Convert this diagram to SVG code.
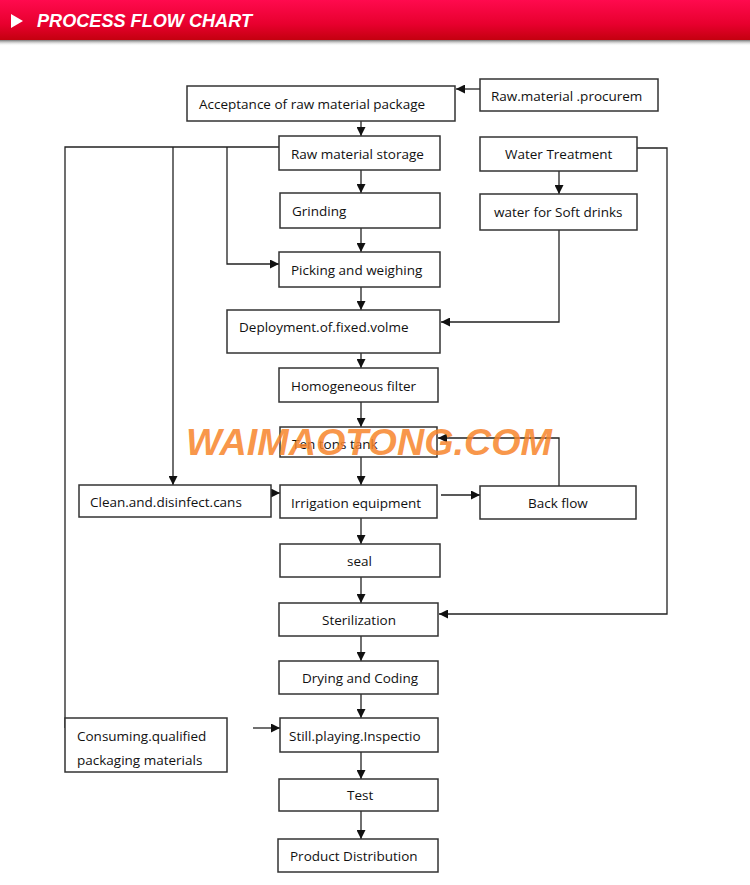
<svg xmlns="http://www.w3.org/2000/svg" width="750" height="885" viewBox="0 0 750 885">
<defs>
<linearGradient id="hdr" x1="0" y1="0" x2="0" y2="1">
<stop offset="0" stop-color="#ff0a4e"/>
<stop offset="0.6" stop-color="#e8002e"/>
<stop offset="1" stop-color="#c4000f"/>
</linearGradient>
<linearGradient id="shd" x1="0" y1="0" x2="0" y2="1">
<stop offset="0" stop-color="#777"/>
<stop offset="1" stop-color="#fff" stop-opacity="0"/>
</linearGradient>
<marker id="ah" viewBox="0 0 10 10" refX="10" refY="5" markerWidth="9" markerHeight="9" markerUnits="userSpaceOnUse" orient="auto">
<path d="M0,0 L10,5 L0,10 z" fill="#111"/>
</marker>
</defs>
<style>
.box{fill:#fff;stroke:#333;stroke-width:1.5}
.t{font-family:"Open Sans","Liberation Sans",sans-serif;font-size:13.5px;fill:#111}
.c{fill:none;stroke:#222;stroke-width:1.3}
.a{fill:none;stroke:#222;stroke-width:1.3;marker-end:url(#ah)}
</style>
<rect width="750" height="885" fill="#fff"/>
<g id="header">
<rect x="0" y="40" width="750" height="6" fill="url(#shd)"/>
<rect x="0" y="0" width="750" height="40" fill="url(#hdr)"/>
<polygon points="11,14 23,21 11,28" fill="#fff"/>
<text x="37" y="27" font-family="'Liberation Sans',Arial,sans-serif" font-size="18" font-weight="bold" font-style="italic" fill="#fff" textLength="215" lengthAdjust="spacingAndGlyphs">PROCESS FLOW CHART</text>
</g>
<g id="connectors">
<path class="a" d="M480,89 H456"/>
<path class="a" d="M361,121 V136"/>
<path class="c" d="M279,147 H65 V728"/>
<path class="a" d="M65,728 H86"/>
<path class="a" d="M173,147 V485"/>
<path class="a" d="M227,147 V264 H279"/>
<path class="a" d="M361,170 V193"/>
<path class="a" d="M361,228 V252"/>
<path class="a" d="M361,287 V310"/>
<path class="a" d="M559,171 V194"/>
<path class="a" d="M559,230 V322 H441"/>
<path class="a" d="M637,148 H667 V614 H439"/>
<path class="a" d="M361,353 V368"/>
<path class="a" d="M361,402 V427"/>
<path class="a" d="M361,457 V485"/>
<path class="a" d="M251,493 H280"/>
<path class="a" d="M441,495 H480"/>
<path class="a" d="M559,486 V438 H438"/>
<path class="a" d="M361,518 V544"/>
<path class="a" d="M361,577 V603"/>
<path class="a" d="M361,636 V661"/>
<path class="a" d="M361,694 V718"/>
<path class="a" d="M253,728 H280"/>
<path class="a" d="M361,752 V779"/>
<path class="a" d="M361,811 V839"/>
</g>
<g id="acceptance"><rect class="box" x="187" y="86" width="268" height="35"/><text class="t" x="199" y="109">Acceptance of raw material package</text></g>
<g id="procurement"><rect class="box" x="480" y="79" width="178" height="32"/><text class="t" x="491" y="101">Raw.material .procurem</text></g>
<g id="storage"><rect class="box" x="279" y="136" width="161" height="34"/><text class="t" x="291" y="159">Raw material storage</text></g>
<g id="water-treatment"><rect class="box" x="480" y="137" width="157" height="34"/><text class="t" x="505" y="159">Water Treatment</text></g>
<g id="grinding"><rect class="box" x="280" y="193" width="160" height="35"/><text class="t" x="292" y="216">Grinding</text></g>
<g id="water-soft"><rect class="box" x="480" y="194" width="157" height="36"/><text class="t" x="494" y="217">water for Soft drinks</text></g>
<g id="picking"><rect class="box" x="279" y="252" width="161" height="35"/><text class="t" x="291" y="275">Picking and weighing</text></g>
<g id="deployment"><rect class="box" x="227" y="310" width="213" height="43"/><text class="t" x="239" y="332">Deployment.of.fixed.volme</text></g>
<g id="homogeneous"><rect class="box" x="279" y="368" width="159" height="34"/><text class="t" x="291" y="391">Homogeneous filter</text></g>
<g id="tank"><rect class="box" x="280" y="427" width="157" height="30"/><text class="t" x="292" y="449">Ten tons tank</text></g>
<g id="clean"><rect class="box" x="79" y="485" width="192" height="32"/><text class="t" x="90" y="507">Clean.and.disinfect.cans</text></g>
<g id="irrigation"><rect class="box" x="280" y="485" width="157" height="33"/><text class="t" x="291" y="508">Irrigation equipment</text></g>
<g id="backflow"><rect class="box" x="480" y="486" width="156" height="33"/><text class="t" x="528" y="508">Back flow</text></g>
<g id="seal"><rect class="box" x="280" y="544" width="160" height="33"/><text class="t" x="347" y="566">seal</text></g>
<g id="sterilization"><rect class="box" x="279" y="603" width="159" height="33"/><text class="t" x="322" y="625">Sterilization</text></g>
<g id="drying"><rect class="box" x="279" y="661" width="159" height="33"/><text class="t" x="302" y="683">Drying and Coding</text></g>
<g id="consuming"><rect class="box" x="65" y="718" width="162" height="54"/><text class="t" x="77" y="741">Consuming.qualified</text><text class="t" x="77" y="765">packaging materials</text></g>
<g id="inspection"><rect class="box" x="280" y="718" width="158" height="34"/><text class="t" x="289" y="741">Still.playing.Inspectio</text></g>
<g id="test"><rect class="box" x="279" y="779" width="159" height="32"/><text class="t" x="347" y="800">Test</text></g>
<g id="distribution"><rect class="box" x="278" y="839" width="160" height="33"/><text class="t" x="290" y="861">Product Distribution</text></g>
<text x="186" y="455" font-family="'Liberation Sans',Arial,sans-serif" font-size="37" font-weight="bold" font-style="italic" fill="#f7842a" fill-opacity="0.85" textLength="366" lengthAdjust="spacingAndGlyphs">WAIMAOTONG.COM</text>
</svg>
